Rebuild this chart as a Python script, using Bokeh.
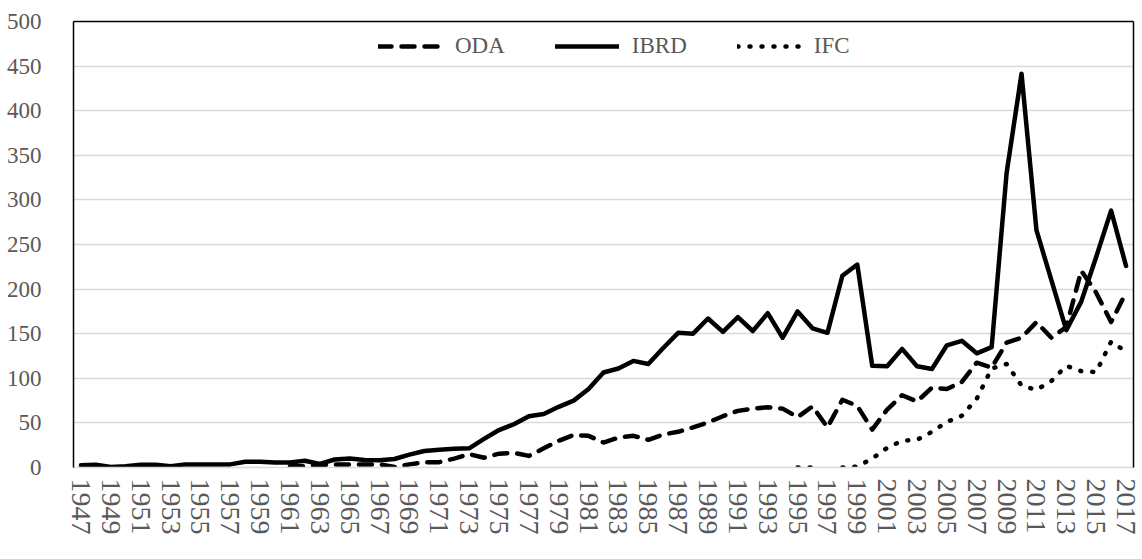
from bokeh.plotting import figure
from bokeh.models import Range1d, FixedTicker, LinearAxis, Legend, LegendItem, ColumnDataSource
from bokeh.embed import file_html
from bokeh.resources import INLINE

nan = float("nan")

years = list(range(1947, 2018))
tick_years = list(range(1947, 2018, 2))
y_ticks = [0, 50, 100, 150, 200, 250, 300, 350, 400, 450, 500]

ibrd = [2.5, 3, 0.5, 1.5, 3, 3, 1.5, 3.5, 3.5, 3.5,
        3.5, 6.5, 6.5, 5.5, 5.5, 7.5, 4, 9, 10, 8.5,
        8, 9.5, 14.5, 18.5, 20, 21, 21.5, 32, 42, 48.5,
        57.5, 60, 68, 75, 88, 106.5, 111, 119.5, 116, 134,
        151, 150, 167, 152, 168.5, 153, 173, 145.5, 175, 156,
        151, 215, 227.5, 114, 113.5, 133, 113.5, 110.5, 137, 142,
        128, 135, 330, 441.5, 266, 210, 154, 186, 236, 288,
        226]

oda = [nan] * 14 + [
        1.5, 1.5, 2.5, 3.5, 3.5, 3.5, 3.5, 0.5, 3.5, 6,
        6, 10, 15, 11, 15.5, 16.5, 13, 21.5, 30, 36.5,
        35.5, 28, 33.5, 35.5, 31, 37, 40, 45, 50.5, 57.5,
        63.5, 66, 67.5, 66, 56.5, 68.5, 45, 76, 69, 42.5,
        65, 81, 74, 89.5, 88, 96, 117.5, 112, 140, 145.5,
        163, 145.5, 157.5, 220.5, 196, 163, 196]

ifc = [nan] * 48 + [
        0, 0, nan, 0, 1, 10, 22, 30, 31, 40,
        51, 58, 77, 111, 116, 92, 87, 97, 114, 108,
        107, 141, 130]

src = ColumnDataSource(dict(year=years, oda=oda, ibrd=ibrd, ifc=ifc))

FONT = "'Liberation Serif', 'Times New Roman', serif"
GREY = "#595959"

p = figure(width=1142, height=557, output_backend="svg", toolbar_location=None,
           x_range=Range1d(1946.5, 2017.5), y_range=Range1d(0, 500),
           min_border_left=73, min_border_right=9, min_border_top=21,
           min_border_bottom=90)
p.background_fill_color = "white"
p.border_fill_color = "white"
p.outline_line_color = None

p.xgrid.visible = False
p.ygrid.ticker = FixedTicker(ticks=y_ticks)
p.ygrid.grid_line_color = "#d9d9d9"
p.ygrid.grid_line_width = 1.5

p.xaxis.ticker = FixedTicker(ticks=tick_years)
p.xaxis.major_label_orientation = "vertical"
p.xaxis.major_label_text_font = FONT
p.xaxis.major_label_text_font_size = "28px"
p.xaxis.major_label_text_color = GREY
p.xaxis.major_tick_line_color = None
p.xaxis.minor_tick_line_color = None
p.xaxis.axis_line_color = "#d9d9d9"
p.xaxis.axis_line_width = 1.5
p.xaxis.major_label_standoff = 5

p.yaxis.ticker = FixedTicker(ticks=y_ticks)
p.yaxis.major_label_text_font = FONT
p.yaxis.major_label_text_font_size = "23px"
p.yaxis.major_label_text_color = GREY
p.yaxis.major_tick_line_color = None
p.yaxis.minor_tick_line_color = None
p.yaxis.axis_line_color = "black"
p.yaxis.axis_line_width = 1.5
p.yaxis.major_label_standoff = 26

for side in ("above", "right"):
    ax = LinearAxis(ticker=FixedTicker(ticks=[]), axis_line_color="black",
                    axis_line_width=1.5, major_tick_line_color=None,
                    minor_tick_line_color=None, major_label_text_font_size="0px",
                    major_label_standoff=0)
    p.add_layout(ax, side)

r_oda = p.line("year", "oda", source=src, line_color="black", line_width=4.5,
               line_dash="13 10", line_cap="round", line_join="round")
r_ibrd = p.line("year", "ibrd", source=src, line_color="black", line_width=4.5,
                line_cap="round", line_join="round")
r_ifc = p.line("year", "ifc", source=src, line_color="black", line_width=4.5,
               line_dash="1 11", line_cap="round", line_join="round")

legend = Legend(items=[LegendItem(label="ODA", renderers=[r_oda]),
                       LegendItem(label="IBRD", renderers=[r_ibrd]),
                       LegendItem(label="IFC", renderers=[r_ifc])],
                orientation="horizontal", location=(305, 408),
                glyph_width=64, glyph_height=20, label_standoff=13, spacing=50,
                padding=0, margin=0, border_line_color=None,
                background_fill_alpha=0,
                label_text_font=FONT, label_text_font_size="23px",
                label_text_color=GREY)
p.add_layout(legend)

open("out.html", "w").write(file_html(p, INLINE))
